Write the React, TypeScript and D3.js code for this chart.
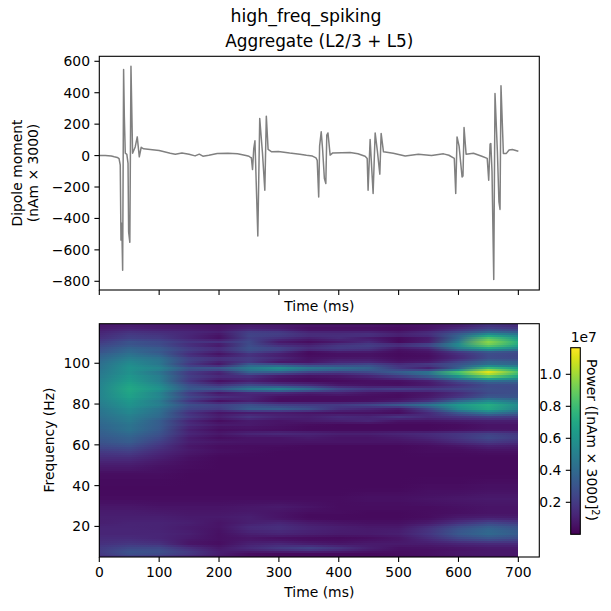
import React from "react";
import * as d3 from "d3";

const traceTimes = [0,10,20,25,30,33,35,36.2,37.5,39,40.6,41.8,43.4,46,48,49,51,52.9,55.6,60,63.4,66.8,70,74,85,100,118.5,127,138,150,160,167,173,183,197,215,231,245,250,252.6,254,256,258,260,264.8,268,272.6,276.5,279,282,288,299,318,335,346,356,362,364,366.5,368,370.7,373,376,378.4,380,382,385.6,390,405,419,432,444,447.5,449,452.4,457.4,460.8,464.5,468.6,470.8,474.7,491,511,533,555,575,584,593,595.4,597.6,601,606,607.5,609.3,612.7,625,639,648,650.5,652.8,654,656,658.9,661,665,667.6,669.4,671,675,680,684.5,690,700];
const traceValues = [0,0,-3,-8,-12,-20,-60,-538,-430,-730,548,250,15,8,-50,-485,-552,569,15,55,119,-8,53,43,38,32,15,9,17,8,-2,9,-4,2,13,15,11,0,-4,-12,-14,-89,45,94,-511,236,15,-220,251,39,24,26,16,9,2,-3,-15,-30,-263,60,151,40,-146,-178,130,144,3,17,18,20,12,-4,-18,-220,102,-241,144,30,-118,141,24,15,-2,9,1,11,2,-18,-241,119,60,-136,-130,179,9,15,-4,-18,-157,73,77,-100,-789,395,24,-295,-343,444,13,14,36,39,28];

const freqRows = [118.8,117.3,115.9,114.4,112.9,111.0,109.5,107.5,106.0,104.6,102.6,101.1,99.7,97.7,95.7,93.8,91.8,89.8,87.9,85.9,83.9,82.0,80.0,78.0,76.1,74.1,72.0,70.1,68.1,66.2,64.2,62.0,59.9,57.4,54.4,50.5,45.6,39.7,33.8,29.9,27.0,24.5,22.0,19.6,17.1,14.7,12.2,9.7,7.3,5.3];
const timeCols = [0,50,100,150,200,250,300,350,400,450,500,550,600,650,700];
// power in units of 1e5, one row per entry of freqRows
const powerRows = [
[7,9,8,7,6,9,8,6,6,6,5,6,10,18,15],
[9,12,10,9,6,12,10,4,4,4,3,6,16,26,22],
[12,17,15,13,10,22,20,12,12,12,8,14,26,40,34],
[14,20,18,12,6,24,22,16,16,18,12,16,36,65,50],
[16,22,20,12,5,22,16,10,14,8,3,8,38,85,62],
[20,30,26,18,16,26,8,4,8,14,3,10,48,96,72],
[24,30,26,14,5,26,14,10,18,22,18,28,58,92,70],
[28,38,34,22,16,30,26,16,20,18,6,10,44,65,50],
[30,40,32,18,10,24,16,4,8,8,4,6,20,32,28],
[34,44,36,14,4,14,8,3,4,5,3,4,14,26,24],
[38,50,44,24,18,22,14,6,8,8,4,5,14,28,26],
[40,54,46,22,10,18,6,5,12,12,6,8,24,38,34],
[42,56,46,18,6,34,28,20,22,26,16,22,30,42,38],
[44,60,54,32,34,50,62,50,44,38,20,8,36,85,66],
[46,58,44,18,8,34,30,20,18,24,36,50,90,116,85],
[48,62,50,22,14,14,6,4,6,10,18,30,56,85,66],
[50,64,50,18,4,10,5,3,3,4,4,8,24,38,36],
[52,68,56,28,18,28,22,16,8,6,5,8,16,26,26],
[52,70,60,32,32,48,54,42,26,20,22,20,24,28,26],
[52,68,52,20,6,12,12,8,10,6,4,6,14,26,28],
[52,66,54,26,16,12,5,4,4,4,4,8,18,32,30],
[50,62,48,18,5,10,4,4,4,5,8,16,38,55,44],
[48,60,50,28,22,28,22,20,20,24,32,44,62,72,56],
[46,56,44,24,20,34,34,28,16,12,8,24,56,70,52],
[44,54,42,16,6,8,8,6,5,5,3,14,32,48,36],
[42,50,40,20,10,18,12,10,14,12,18,14,18,22,20],
[40,48,34,12,4,8,6,8,10,12,6,6,8,10,10],
[38,45,34,15,8,8,6,4,3,3,3,3,4,6,6],
[36,44,32,10,4,5,4,3,3,3,3,3,4,6,6],
[34,40,30,13,8,12,14,12,10,10,12,14,18,22,18],
[32,36,26,9,4,6,6,8,6,6,8,12,18,26,20],
[30,34,22,10,7,6,6,6,6,6,6,8,14,20,16],
[26,28,18,7,4,4,4,3,3,3,3,4,6,10,9],
[20,22,14,8,5,4,3,3,3,3,3,4,4,5,5],
[15,15,10,5,3,3,3,3,3,3,3,3,3,3,3],
[9,9,6,4,3,3,3,3,3,3,3,3,3,3,3],
[4,4,4,3,3,3,3,3,3,3,3,3,3,3,3],
[3,3,3,3,3,3,3,3,3,3,3,4,4,5,5],
[4,4,4,4,4,4,4,4,4,5,5,6,7,8,8],
[7,7,6,6,6,7,8,6,4,4,4,4,5,6,6],
[9,9,8,7,7,8,6,4,4,3,3,4,5,6,6],
[10,10,10,8,8,10,6,3,3,3,3,4,8,10,9],
[10,11,11,10,6,10,12,8,6,5,5,8,16,24,20],
[12,12,11,8,6,14,16,12,10,8,8,16,28,36,30],
[12,12,12,10,5,10,12,10,8,8,10,18,32,40,34],
[14,14,12,8,5,6,4,3,3,4,6,14,24,30,26],
[16,18,16,6,4,10,12,8,6,8,8,9,12,14,14],
[20,26,26,16,8,14,20,24,18,10,5,5,6,7,7],
[20,30,28,20,10,4,3,3,3,3,4,5,7,8,8],
[14,18,16,10,6,4,3,3,3,3,3,4,5,6,6],
];

const xTicks = [0,100,200,300,400,500,600,700];
const dipoleTicks = [600,400,200,0,-200,-400,-600,-800];
const freqTicks = [20,40,60,80,100];
const cbarTicks = [0.2,0.4,0.6,0.8,1.0];

const FONT = "'DejaVu Sans', sans-serif";
const FS = 13.9;
const LEFT = 99.3, RIGHT = 539.3;
const TOP1 = 56.3, BOT1 = 290;
const TOP2 = 323.7, BOT2 = 557;
const CB_L = 570.7, CB_R = 580.3, CB_T = 347.7, CB_B = 534.3;
const VMAX = 116.6;

const x = d3.scaleLinear().domain([0, 735]).range([LEFT, RIGHT]);
const y1 = d3.scaleLinear().domain([-855.4, 631.8]).range([BOT1, TOP1]);
const y2 = d3.scaleLinear().domain([5, 119.4]).range([BOT2, TOP2]);
const yc = d3.scaleLinear().domain([0, 1.1663]).range([CB_B, CB_T]);
const color = (v: number) => d3.interpolateViridis(Math.max(0, Math.min(1, v / VMAX)));

// ascending frequency lookup for the strips of the image
const ascFreq = [...freqRows].reverse();
const ascRows = [...powerRows].reverse();
function rowAt(f: number): number[] {
  const i = d3.bisectLeft(ascFreq, f);
  if (i <= 0) return ascRows[0];
  if (i >= ascFreq.length) return ascRows[ascRows.length - 1];
  const k = (f - ascFreq[i - 1]) / (ascFreq[i] - ascFreq[i - 1]);
  return ascRows[i].map((v, j) => ascRows[i - 1][j] * (1 - k) + v * k);
}
const strips = d3.range(5, 119.4, 1).map((f) => ({ f, row: rowAt(f) }));

const line = d3.line<number>()
  .x((_, i) => x(traceTimes[i]))
  .y((d) => y1(d));

const Tick = ({ x1, y1: a, x2, y2: b }: any) => (
  <line x1={x1} y1={a} x2={x2} y2={b} stroke="#000" strokeWidth={1.1} />
);

export default function App() {
  const cbStops = d3.range(0, 1.0001, 0.05);
  return (
    <svg width={611} height={611} viewBox="0 0 611 611"
      style={{ position: "absolute", left: 0, top: 0, background: "#fff" }}
      fontFamily={FONT} fontSize={FS} fill="#000">
      <defs>
        {strips.map((s, i) => (
          <linearGradient key={i} id={`g${i}`} x1="0" x2="1" y1="0" y2="0">
            {s.row.map((v, j) => (
              <stop key={j} offset={timeCols[j] / 700} stopColor={color(v)} />
            ))}
          </linearGradient>
        ))}
        <linearGradient id="cb" x1="0" x2="0" y1="1" y2="0">
          {cbStops.map((o) => (
            <stop key={o} offset={o} stopColor={d3.interpolateViridis(o)} />
          ))}
        </linearGradient>
      </defs>

      <text x={306} y={22} textAnchor="middle" fontSize={17.3}>high_freq_spiking</text>
      <text x={319.3} y={47} textAnchor="middle" fontSize={16.9}>Aggregate (L2/3 + L5)</text>

      {/* top panel */}
      <path d={line(traceValues) ?? ""} fill="none" stroke="#808080" strokeWidth={1.5} strokeLinejoin="round" />
      <rect x={LEFT} y={TOP1} width={RIGHT - LEFT} height={BOT1 - TOP1} fill="none" stroke="#000" strokeWidth={1.1} />
      {xTicks.map((t) => <Tick key={t} x1={x(t)} x2={x(t)} y1={BOT1} y2={BOT1 + 4.9} />)}
      {dipoleTicks.map((v) => (
        <g key={v}>
          <Tick x1={LEFT - 4.9} x2={LEFT} y1={y1(v)} y2={y1(v)} />
          <text x={LEFT - 9.3} y={y1(v) + 5} textAnchor="end">{v < 0 ? `\u2212${-v}` : v}</text>
        </g>
      ))}
      <text x={319.3} y={311} textAnchor="middle">Time (ms)</text>
      <text transform={`translate(22,173) rotate(-90)`} textAnchor="middle">Dipole moment</text>
      <text transform={`translate(38,173) rotate(-90)`} textAnchor="middle">(nAm × 3000)</text>

      {/* bottom panel: strips run from the lowest frequency up, each overlapping the last */}
      <g shapeRendering="crispEdges">
        {strips.map((s, i) => {
          const yTop = Math.max(TOP2, y2(s.f + 0.5));
          const yBot = Math.min(BOT2, y2(s.f - 0.5) + 1);
          return (
            <rect key={i} x={x(0)} width={x(700) - x(0)} y={yTop} height={yBot - yTop}
              fill={`url(#g${i})`} />
          );
        })}
      </g>
      <rect x={LEFT} y={TOP2} width={RIGHT - LEFT} height={BOT2 - TOP2} fill="none" stroke="#000" strokeWidth={1.1} />
      {xTicks.map((t) => (
        <g key={t}>
          <Tick x1={x(t)} x2={x(t)} y1={BOT2} y2={BOT2 + 4.9} />
          <text x={x(t)} y={577} textAnchor="middle">{t}</text>
        </g>
      ))}
      {freqTicks.map((f) => (
        <g key={f}>
          <Tick x1={LEFT - 4.9} x2={LEFT} y1={y2(f)} y2={y2(f)} />
          <text x={LEFT - 9.3} y={y2(f) + 5} textAnchor="end">{f}</text>
        </g>
      ))}
      <text x={319.3} y={597} textAnchor="middle">Time (ms)</text>
      <text transform={`translate(54,440) rotate(-90)`} textAnchor="middle">Frequency (Hz)</text>

      {/* colour bar */}
      <rect x={CB_L} y={CB_T} width={CB_R - CB_L} height={CB_B - CB_T} fill="url(#cb)" stroke="#000" strokeWidth={1.1} />
      {cbarTicks.map((v) => (
        <g key={v}>
          <Tick x1={CB_L - 4.9} x2={CB_L} y1={yc(v)} y2={yc(v)} />
          <text x={CB_L - 9.3} y={yc(v) + 5} textAnchor="end">{v.toFixed(1)}</text>
        </g>
      ))}
      <text x={CB_L} y={342} textAnchor="start">1e7</text>
      <text transform={`translate(587,440) rotate(90)`} textAnchor="middle">
        Power ([nAm × 3000]
        <tspan fontSize={9.7} dy={-5}>2</tspan>
        <tspan dy={5}>)</tspan>
      </text>
    </svg>
  );
}
